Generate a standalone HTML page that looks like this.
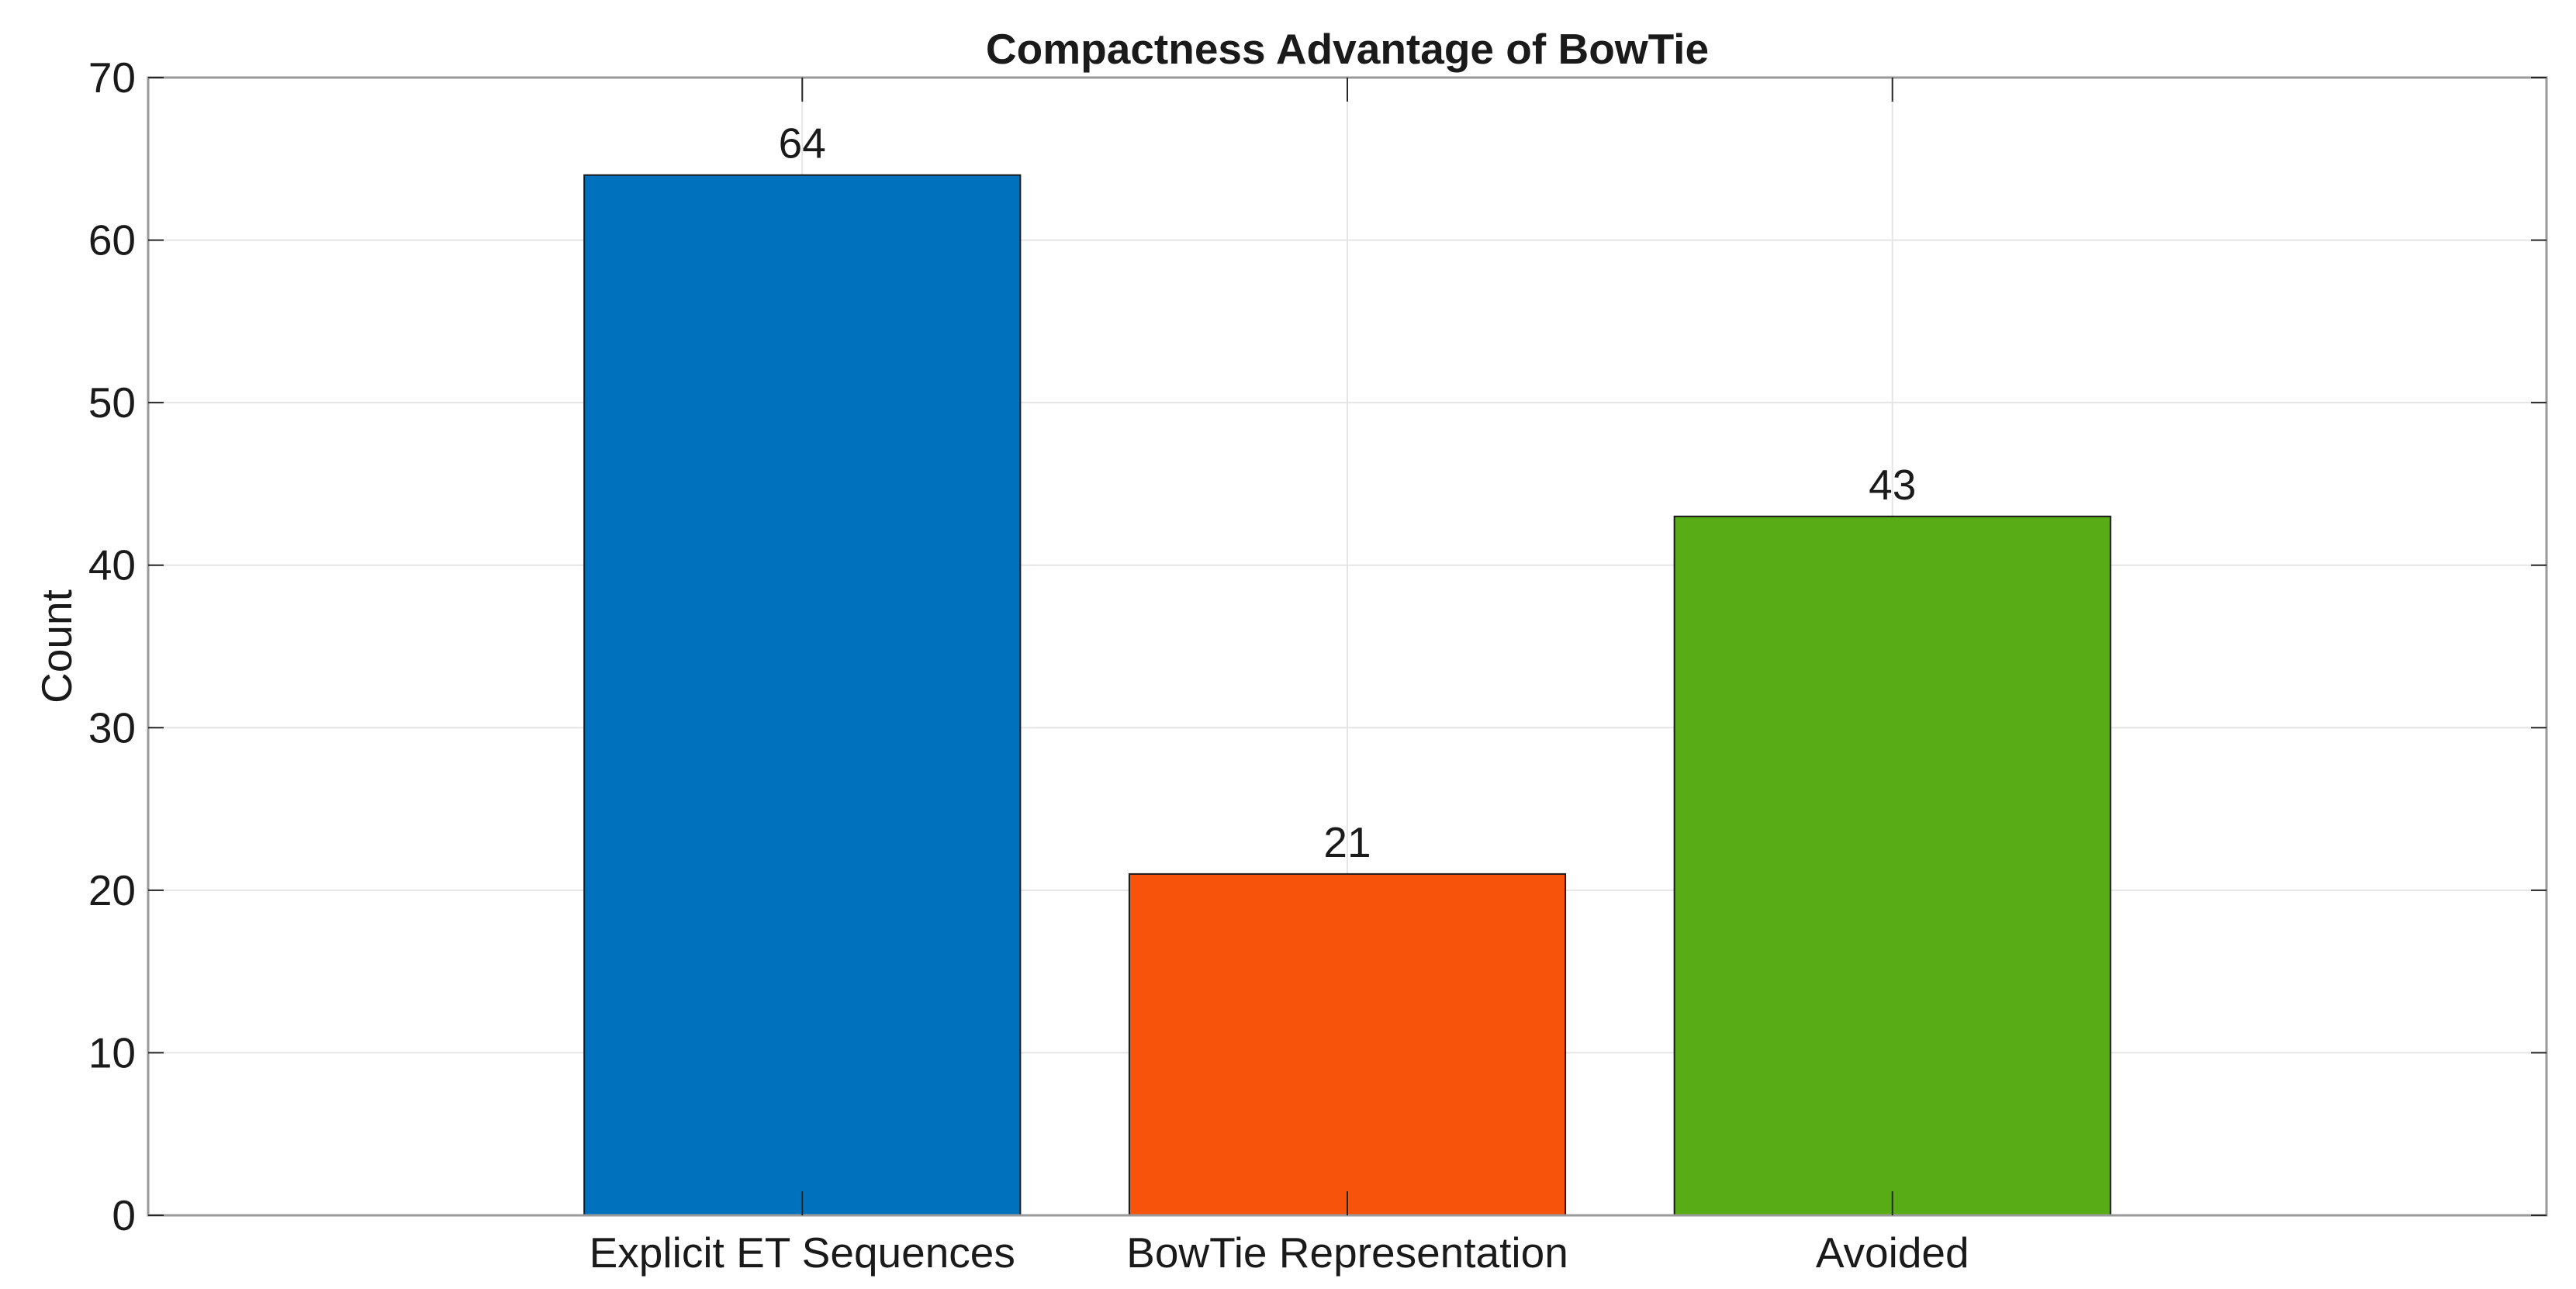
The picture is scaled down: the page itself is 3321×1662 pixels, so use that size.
<!DOCTYPE html>
<html><head><meta charset="utf-8"><style>
html,body{margin:0;padding:0;background:#fff;}
svg{display:block;font-family:"Liberation Sans",Arial,sans-serif;}
</style></head><body>
<svg id="chart" width="3321" height="1662" viewBox="0 0 3321 1662" xmlns="http://www.w3.org/2000/svg">
<rect width="3321" height="1662" fill="#fff"/>
<g id="grid"></g><g id="bars"></g><g id="axes"></g><g id="labels"></g>
</svg>
<script>
const categories = ["Explicit ET Sequences", "BowTie Representation", "Avoided"];
const values = [64, 21, 43];
const colors = ["#0072BD", "#F8530B", "#58AD17"];
const yTicks = [0, 10, 20, 30, 40, 50, 60, 70];

const NS = "http://www.w3.org/2000/svg";
const L = 191, R = 3283, T = 100, B = 1567;
const xMin = -0.2, xMax = 4.2, yMin = 0, yMax = 70;
function xs(v){ return L + (v - xMin) / (xMax - xMin) * (R - L); }
function ys(v){ return B - (v - yMin) / (yMax - yMin) * (B - T); }
function mk(tag, attrs, parent, text){
  const e = document.createElementNS(NS, tag);
  for (const k in attrs) e.setAttribute(k, attrs[k]);
  if (text !== undefined) e.textContent = text;
  document.getElementById(parent).appendChild(e);
  return e;
}
yTicks.forEach(t => {
  if (t === yMin || t === yMax) return;
  const g = mk("line", {x1:L, x2:R, y1:ys(t), y2:ys(t), stroke:"#e5e5e5", "stroke-width":2}, "grid");
  
  
});
categories.forEach((c, i) => {
  const g = mk("line", {x1:xs(i+1), x2:xs(i+1), y1:T, y2:B, stroke:"#e5e5e5", "stroke-width":2}, "grid");
  
  
});
const bw = 0.8;
values.forEach((v, i) => {
  const x0 = xs(i + 1 - bw/2), x1 = xs(i + 1 + bw/2);
  const b = mk("rect", {x:x0, y:ys(v), width:x1 - x0, height:ys(0) - ys(v), fill:colors[i], stroke:"#1a1a1a", "stroke-width":2}, "bars");
  
  
  const t = mk("text", {x:xs(i+1), y:ys(v) - 22, "text-anchor":"middle", "font-size":55, fill:"#1a1a1a"}, "labels", String(v));
  
  
});
const box = mk("rect", {x:L, y:T, width:R-L, height:B-T, fill:"none", stroke:"#9a9a9a", "stroke-width":3}, "axes");


yTicks.forEach(t => {
  const y = ys(t);
  const a = mk("line", {x1:L, x2:L+20, y1:y, y2:y, stroke:"#262626", "stroke-width":2}, "axes");
  
  
  const b = mk("line", {x1:R-20, x2:R, y1:y, y2:y, stroke:"#262626", "stroke-width":2}, "axes");
  
  
  const lab = mk("text", {x:L - 16, y:y + 19, "text-anchor":"end", "font-size":55, fill:"#1a1a1a"}, "labels", String(t));
  
  
});
categories.forEach((c, i) => {
  const x = xs(i + 1);
  const a = mk("line", {x1:x, x2:x, y1:B, y2:B-31, stroke:"#262626", "stroke-width":2}, "axes");
  
  
  const b = mk("line", {x1:x, x2:x, y1:T, y2:T+31, stroke:"#262626", "stroke-width":2}, "axes");
  
  
  const lab = mk("text", {x:x, y:1634, "text-anchor":"middle", "font-size":55, fill:"#1a1a1a"}, "labels", c);
  
  
});
const title = mk("text", {x:(L+R)/2, y:82, "text-anchor":"middle", "font-size":55, "font-weight":"bold", fill:"#1a1a1a"}, "labels", "Compactness Advantage of BowTie");


const yl = mk("text", {x:0, y:0, "text-anchor":"middle", "font-size":55, fill:"#1a1a1a", transform:"translate(92," + ((T+B)/2) + ") rotate(-90)"}, "labels", "Count");


</script>
</body></html>
